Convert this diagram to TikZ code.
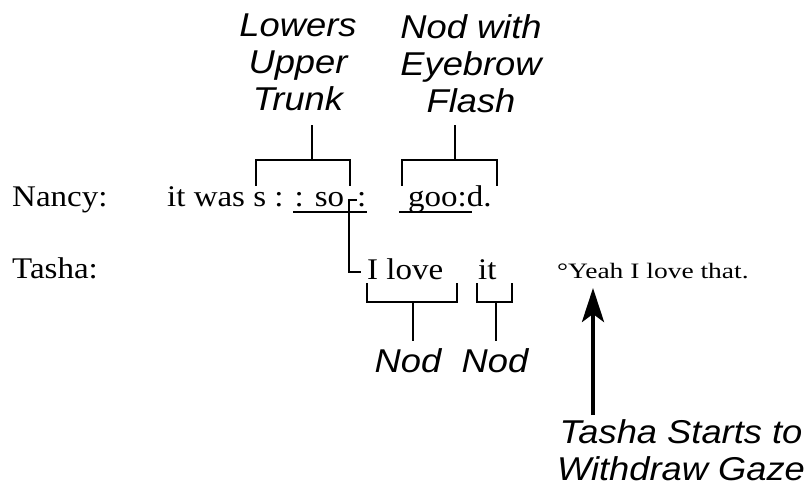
\documentclass[tikz,border=0pt]{standalone}
\usepackage{fontspec}
\setmainfont{Liberation Serif}[FakeStretch=1.1]
\newfontfamily\labfont{Liberation Sans}[FakeStretch=1.1]
\newfontfamily\smallser{Liberation Serif}[FakeStretch=1.25]
\usetikzlibrary{arrows.meta}
\begin{document}
\begin{tikzpicture}[x=1pt,y=-1pt,
  tr/.style={inner sep=0pt, anchor=base west, font=\fontsize{30}{34}\selectfont},
  trsmall/.style={inner sep=0pt, anchor=base west, font=\smallser\fontsize{22}{26}\selectfont},
  lab/.style={inner sep=0pt, anchor=north, align=center, font=\labfont\itshape\fontsize{33}{37}\selectfont},
  labone/.style={inner sep=0pt, anchor=base, font=\labfont\itshape\fontsize{33}{37}\selectfont},
  brk/.style={line width=2.5pt, line join=miter, line cap=rect},
  ul/.style={line width=2pt},
  arr/.style={line width=4pt, -{Stealth[length=34pt,width=22pt,inset=8pt]}}]
\useasboundingbox[fill=white] (0,0) rectangle (810,486);

% speakers
\node[tr] (nancy) at (12,207) {Nancy:};
\node[tr] (tasha) at (12,278) {Tasha:};

% Nancy's line
\node[tr] (n1) at (167,207) {it was s : : so};
\node[tr] (n2) at (357,207) {:};
\node[tr] (n3) at (408,207) {goo:d.};
\draw[ul] (293,212) -- (367,212);
\draw[ul] (399,212) -- (472,212);

% overlap hook
\draw[brk, line cap=butt] (357,200) -- (349,200) -- (349,272) -- (361,272);

% Tasha's line
\node[tr] (t1) at (367,279) {I love};
\node[tr] (t2) at (478,279) {it};
\node[trsmall] (yeah) at (557,278) {°Yeah I love that.};

% upper brackets
\draw[brk] (256,185) -- (256,160) -- (350,160) -- (350,185);
\draw[brk] (312,160) -- (312,126);
\draw[brk] (402,185) -- (402,160) -- (497,160) -- (497,185);
\draw[brk] (455,160) -- (455,126);
\node[lab] (lowers) at (298,14) {Lowers\\Upper\\Trunk};
\node[lab] (nodwith) at (471,14) {Nod with\\Eyebrow\\Flash};

% lower brackets
\draw[brk] (367,284) -- (367,302) -- (457,302) -- (457,284);
\draw[brk] (413,302) -- (413,340);
\draw[brk] (477,284) -- (477,302) -- (512,302) -- (512,284);
\draw[brk] (496,302) -- (496,340);
\node[labone] (nod1) at (408,372) {Nod};
\node[labone] (nod2) at (495,372) {Nod};

% arrow
\node[lab] (gaze) at (681,419) {Tasha Starts to\\Withdraw Gaze};
\coordinate (atail) at (593,415);
\coordinate (atip) at (593,288);
\draw[arr] (atail) -- (atip);
\end{tikzpicture}
\end{document}
